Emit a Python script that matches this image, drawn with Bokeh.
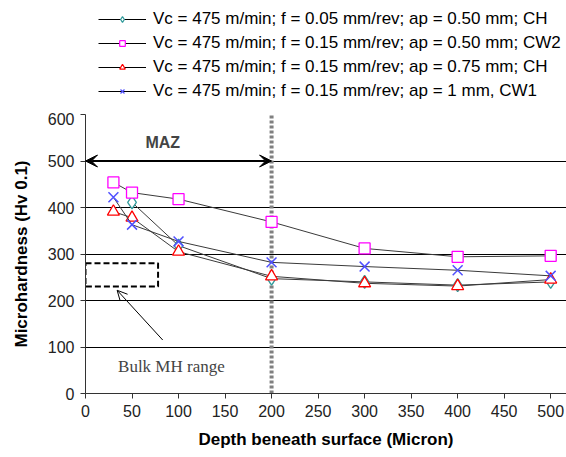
from bokeh.plotting import figure
from bokeh.layouts import column
from bokeh.models import (Range1d, Legend, LegendItem, Arrow, VeeHead, OpenHead,
                          Label, FixedTicker)
from bokeh.embed import file_html
from bokeh.resources import INLINE

# ---- data ----
depth_ch005 = [50, 100, 200, 300, 400, 500]
mh_ch005 = [411, 318, 247, 240, 233, 240]

depth_cw2 = [30, 50, 100, 200, 300, 400, 500]
mh_cw2 = [454, 432, 418, 369, 312, 294, 296]

depth_ch075 = [30, 50, 100, 200, 300, 400, 500]
mh_ch075 = [391, 378, 305, 252, 237, 231, 245]

depth_cw1 = [30, 50, 100, 200, 300, 400, 500]
mh_cw1 = [422, 363, 327, 282, 273, 265, 253]

labels = [
    "Vc = 475 m/min; f = 0.05 mm/rev; ap = 0.50 mm; CH",
    "Vc = 475 m/min; f = 0.15 mm/rev; ap = 0.50 mm; CW2",
    "Vc = 475 m/min; f = 0.15 mm/rev; ap = 0.75 mm; CH",
    "Vc = 475 m/min; f = 0.15 mm/rev; ap = 1 mm, CW1",
]

x_ticks = [0, 50, 100, 150, 200, 250, 300, 350, 400, 450, 500]
y_ticks = [0, 100, 200, 300, 400, 500, 600]

maz_span = [0, 200]
maz_level = 500
bulk_x = [0, 78]
bulk_y = [230, 280]
bulk_arrow_from = [83, 115]
bulk_arrow_to = [34, 222]

FONT = "Liberation Sans"
LINE = "#3a3a3a"
TEAL, MAGENTA, RED, BLUE = "#2f9a9a", "#ff00ff", "#ff0000", "#5050ff"

series = [
    (depth_ch005, mh_ch005, "diamond", TEAL, 13),
    (depth_cw2, mh_cw2, "square", MAGENTA, 11),
    (depth_ch075, mh_ch075, "triangle", RED, 12),
    (depth_cw1, mh_cw1, "x", BLUE, 14),
]

# ---------------- main chart ----------------
p = figure(width=566, height=345, output_backend="svg", toolbar_location=None,
           x_range=Range1d(0, 517), y_range=Range1d(0, 600),
           min_border_left=85, min_border_right=0, min_border_top=2,
           min_border_bottom=64)
p.outline_line_color = None
p.background_fill_color = "white"
p.border_fill_color = "white"

p.xgrid.visible = False
p.ygrid.grid_line_color = "black"
p.ygrid.grid_line_width = 1
p.ygrid.ticker = FixedTicker(ticks=y_ticks)

for ax in (p.xaxis[0], p.yaxis[0]):
    ax.major_label_text_font = FONT
    ax.major_label_text_font_size = "16px"
    ax.major_label_text_color = "#222222"
    ax.axis_label_text_font = FONT
    ax.axis_label_text_font_style = "bold"
    ax.axis_label_text_font_size = "17px"
    ax.axis_label_text_color = "black"
    ax.axis_line_color = "#333333"
    ax.major_tick_line_color = "#333333"
    ax.minor_tick_line_color = None
    ax.major_tick_in = 0
    ax.major_tick_out = 5

p.xaxis.ticker = FixedTicker(ticks=x_ticks)
p.yaxis.ticker = FixedTicker(ticks=y_ticks)
p.xaxis.axis_label = "Depth beneath surface (Micron)"
p.yaxis.axis_label = "Microhardness (Hv 0.1)"
p.xaxis.major_label_standoff = 6
p.yaxis.major_label_standoff = 6
p.xaxis.axis_label_standoff = 10
p.yaxis.axis_label_standoff = 14

# MAZ boundary: vertical dotted line
p.segment(x0=[maz_span[1]], y0=[0], x1=[maz_span[1]], y1=[y_ticks[-1]],
          line_color="#808080", line_width=4, line_dash="3 2")

# series
for xs, ys, mk, col, sz in series:
    p.line(xs, ys, line_color=LINE, line_width=1)
    if mk == "x":
        p.scatter(xs, ys, marker=mk, size=sz, line_color=col, line_width=1.5)
    else:
        p.scatter(xs, ys, marker=mk, size=sz, line_color=col, fill_color="white",
                  line_width=1.3)

# MAZ double arrow
p.add_layout(Arrow(x_start=maz_span[0], y_start=maz_level, x_end=maz_span[1], y_end=maz_level,
                   line_color="black", line_width=2,
                   start=VeeHead(size=12, fill_color="black", line_color="black"),
                   end=VeeHead(size=12, fill_color="black", line_color="black")))
p.add_layout(Label(x=83, y=540, text="MAZ", text_font=FONT, text_font_style="bold",
                   text_font_size="16px", text_align="center", text_baseline="middle"))

# Bulk MH range
p.quad(left=[bulk_x[0]], right=[bulk_x[1]], bottom=[bulk_y[0]], top=[bulk_y[1]],
       fill_color=None, line_color="black", line_width=2, line_dash="6 3")
p.add_layout(Arrow(x_start=bulk_arrow_from[0], y_start=bulk_arrow_from[1],
                   x_end=bulk_arrow_to[0], y_end=bulk_arrow_to[1],
                   line_color="black", line_width=1,
                   end=OpenHead(size=10, line_color="black", line_width=1)))
p.add_layout(Label(x=35, y=57, text="Bulk MH range", text_font="Liberation Serif",
                   text_font_size="17px", text_align="left", text_baseline="middle"))

# ---------------- legend strip above ----------------
# same series drawn again, outside this strip's ranges, to feed the legend glyphs
lg = figure(width=566, height=112, output_backend="svg", toolbar_location=None,
            x_range=Range1d(0, 1), y_range=Range1d(0, 1),
            min_border_left=85, min_border_right=0, min_border_top=0,
            min_border_bottom=0)
lg.axis.visible = False
lg.grid.visible = False
lg.outline_line_color = None
lg.border_fill_color = "white"

items = []
for lab, (xs, ys, mk, col, _) in zip(labels, series):
    lr = lg.line(xs, ys, line_color="black", line_width=1)
    mr = lg.scatter(xs, ys, marker=mk, line_color=col,
                    fill_color="white", line_width=1.2)
    items.append(LegendItem(label=lab, renderers=[lr, mr]))

legend = Legend(items=items, location=(13, 11), orientation="vertical",
                label_text_font=FONT, label_text_font_size="17px",
                label_text_color="black", glyph_width=48, glyph_height=14,
                label_height=14, spacing=4, padding=2, margin=0,
                label_standoff=7, border_line_color=None,
                background_fill_alpha=0)
lg.add_layout(legend, "center")

layout = column(lg, p, spacing=0)
open("out.html", "w").write(file_html(layout, INLINE))
